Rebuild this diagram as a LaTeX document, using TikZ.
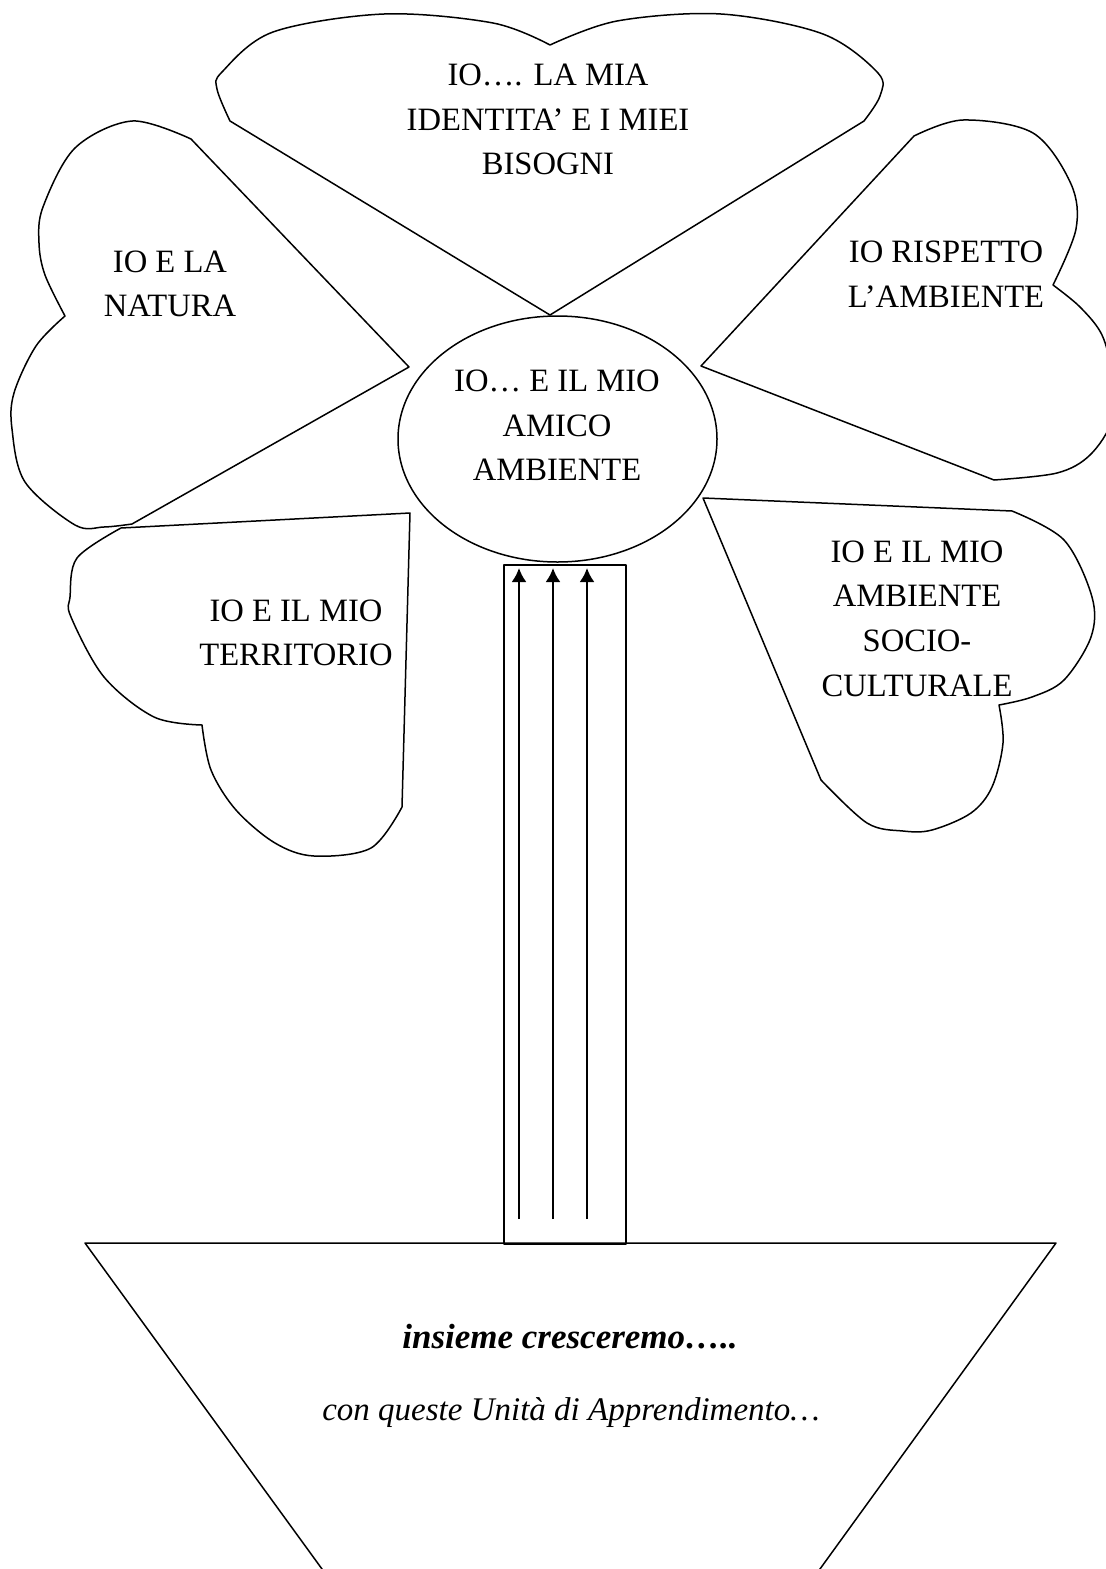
\documentclass[tikz,border=0pt]{standalone}
\usepackage{fontspec}
\setmainfont{Liberation Serif}
\usetikzlibrary{arrows.meta,shapes.geometric}
\newcommand\petalfont{\fontsize{16.3}{22.3}\selectfont}
\tikzset{
  outline/.style={draw=black, line width=0.75pt, line join=round},
  lbl/.style={font=\petalfont, align=center, inner sep=0pt},
  growarrow/.style={line width=1.2pt, -{Latex[length=7pt,width=7.5pt]}},
}
\begin{document}
\begin{tikzpicture}[x=0.5pt,y=-0.5pt]
\useasboundingbox (0,0) rectangle (1106,1569);
\fill[white] (0,0) rectangle (1106,1569);
\clip (0,0) rectangle (1106,1569);

% top petal
\draw[outline] (550,315) -- (230,121)
  -- plot[smooth,tension=0.55] coordinates {(230,121) (217,89) (222,72) (273,32) (384,14) (493,23) (550,45)}
  -- plot[smooth,tension=0.55] coordinates {(550,45) (617,21) (721,14) (823,34) (878,73) (880,96) (864,121)}
  -- cycle;
% left petal (natura)
\draw[outline] (409,367) -- (191,139)
  -- plot[smooth,tension=0.55] coordinates {(191,139) (132,121) (75,148) (43,207) (39,243) (45,275) (65,316)}
  -- plot[smooth,tension=0.55] coordinates {(65,316) (36,346) (14,393) (12,429) (25,482) (75,525) (104,527) (132,524)}
  -- cycle;
% right top petal (rispetto)
\draw[outline] (701,366) -- (914,136)
  -- plot[smooth,tension=0.55] coordinates {(914,136) (963,120) (1033,133) (1071,184) (1076,229) (1053,285)}
  -- plot[smooth,tension=0.55] coordinates {(1053,285) (1080,307) (1102,335) (1112,375) (1112,420) (1090,455) (1057,473) (994,480)}
  -- cycle;
% territory petal
\draw[outline] (410,513) -- (121,528)
  -- plot[smooth,tension=0.55] coordinates {(121,528) (77,558) (70,597) (71,617) (104,677) (154,717) (202,725)}
  -- plot[smooth,tension=0.55] coordinates {(202,725) (211,770) (236,810) (275,843) (314,856) (371,848) (402,807)}
  -- cycle;
% socio-culturale petal
\draw[outline] (703,498) -- (1012,511)
  -- plot[smooth,tension=0.55] coordinates {(1012,511) (1064,540) (1092,597) (1091,637) (1064,680) (1032,697) (999,705)}
  -- plot[smooth,tension=0.55] coordinates {(999,705) (1003,743) (992,787) (971,813) (932,830) (903,831) (867,823) (821,780)}
  -- cycle;

% centre
\node[outline, ellipse, minimum width=159.5pt, minimum height=123pt, inner sep=0pt] (centre) at (557.5,439) {};

% stem
\draw[outline] (504,565) rectangle (626,1244);
\coordinate (a1s) at (519,1219); \coordinate (a1e) at (519,568);
\coordinate (a2s) at (553,1219); \coordinate (a2e) at (553,568);
\coordinate (a3s) at (587,1219); \coordinate (a3e) at (587,568);
\draw[growarrow] (a1s) -- (a1e);
\draw[growarrow] (a2s) -- (a2e);
\draw[growarrow] (a3s) -- (a3e);

% vase
\draw[outline] (330,1580) -- (85,1243) -- (1056,1243) -- (812,1580);

% labels
\node[lbl] (tTop) at (548,119.5) {IO…. LA MIA\\IDENTITA’ E I MIEI\\BISOGNI};
\node[lbl] (tNat) at (170,284) {IO E LA\\NATURA};
\node[lbl] (tCen) at (557,425.5) {IO… E IL MIO\\AMICO\\AMBIENTE};
\node[lbl] (tRis) at (946,274.5) {IO RISPETTO\\L’AMBIENTE};
\node[lbl] (tTer) at (296,633) {IO E IL MIO\\TERRITORIO};
\node[lbl] (tSoc) at (917,618.5) {IO E IL MIO\\AMBIENTE\\SOCIO-\\CULTURALE};
\node[lbl, anchor=base, font=\fontsize{17.5}{20}\selectfont] (tIns) at (570,1348) {\textbf{\textit{insieme cresceremo…..}}};
\node[lbl, anchor=base, font=\fontsize{16.5}{20}\selectfont] (tCon) at (571,1420) {\textit{con queste Unità di Apprendimento…}};
\end{tikzpicture}
\end{document}
